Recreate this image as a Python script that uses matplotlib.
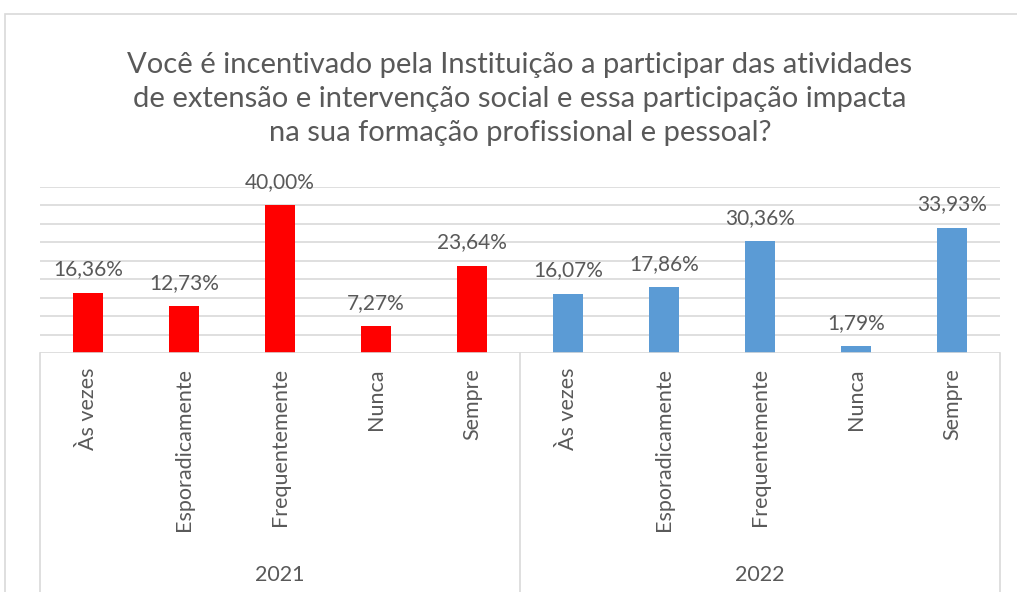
import matplotlib.pyplot as plt
from matplotlib.patches import Rectangle
from matplotlib.lines import Line2D

# -- Dados --
categorias = ["Às vezes", "Esporadicamente", "Frequentemente", "Nunca", "Sempre"]
anos = ["2021", "2022"]
valores_2021 = [16.36, 12.73, 40.00, 7.27, 23.64]
valores_2022 = [16.07, 17.86, 30.36, 1.79, 33.93]
cores = {"2021": "#FF0000", "2022": "#5B9BD5"}

titulo = ("Você é incentivado pela Instituição a participar das atividades\n"
          "de extensão e intervenção social e essa participação impacta\n"
          "na sua formação profissional e pessoal?")

texto_cor = "#595959"
grade_cor = "#D9D9D9"
plt.rcParams["font.family"] = ["Lato", "DejaVu Sans"]

W, H = 1017, 592
fig = plt.figure(figsize=(W / 100, H / 100), dpi=100)

# borda da area do grafico
fig.patches.append(Rectangle((5 / W, -0.1), 1.1, (H - 14) / H + 0.1,
                             transform=fig.transFigure, fill=False,
                             edgecolor=grade_cor, linewidth=1.2))

x0, x1 = 40, 1000
y_base, y_top = 353, 187
ax = fig.add_axes([x0 / W, (H - y_base) / H, (x1 - x0) / W, (y_base - y_top) / H])

todos = valores_2021 + valores_2022
n = len(todos)
pos = list(range(n))
cores_barras = [cores["2021"]] * len(valores_2021) + [cores["2022"]] * len(valores_2022)
ax.bar(pos, todos, width=0.31, color=cores_barras, zorder=3)

for p, v in zip(pos, todos):
    ax.text(p, v + 3.6, f"{v:.2f}%".replace(".", ","), ha="center", va="bottom",
            fontsize=15, color=texto_cor)

ax.set_xlim(-0.5, n - 0.5)
ax.set_ylim(0, 45)
ax.set_yticks(range(5, 46, 5))
ax.yaxis.grid(True, color=grade_cor, linewidth=1.2, zorder=0)
ax.set_yticklabels([])
ax.tick_params(left=False, bottom=False, labelbottom=False)
for s in ax.spines.values():
    s.set_visible(False)
ax.axhline(0, color=grade_cor, linewidth=1.2, zorder=4)

# eixo de categorias agrupado
tr = fig.transFigure
for xs in [x0, (x0 + x1) / 2, x1]:
    fig.lines.append(Line2D([xs / W, xs / W], [0, (H - y_base) / H],
                            transform=tr, color=grade_cor, linewidth=1.2))

larg_slot = (x1 - x0) / n
for i in range(n):
    xc = x0 + larg_slot * (i + 0.5)
    fig.text(xc / W, (H - 368) / H, categorias[i % len(categorias)], rotation=90,
             ha="center", va="top", fontsize=15.5, color=texto_cor)

for j, ano in enumerate(anos):
    xc = x0 + (x1 - x0) / 2 * (j + 0.5)
    fig.text(xc / W, (H - 575) / H, ano, ha="center", va="center",
             fontsize=15.5, color=texto_cor)

fig.text(520 / W, (H - 99) / H, titulo, ha="center", va="center",
         fontsize=21, color=texto_cor, linespacing=1.4)

fig.savefig("out.png", dpi=100)
